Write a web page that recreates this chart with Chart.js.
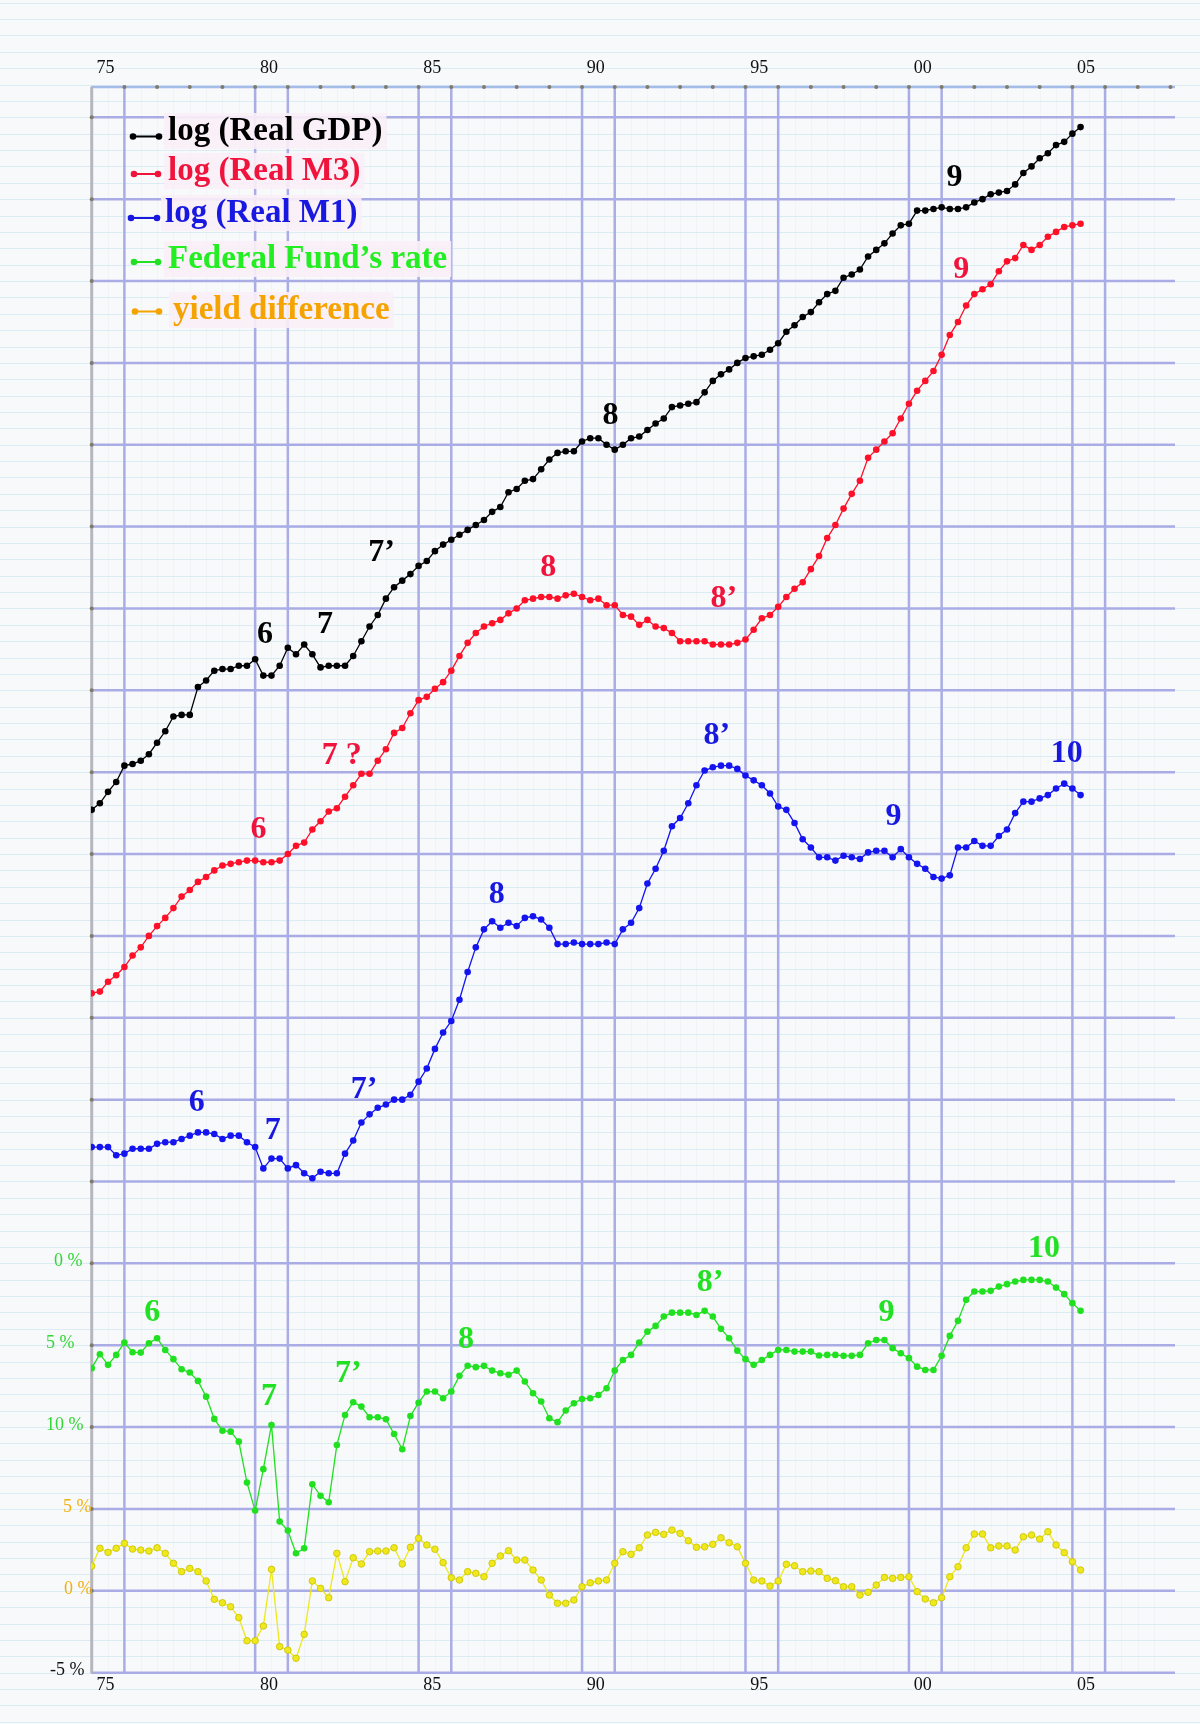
<!DOCTYPE html>
<html>
<head>
<meta charset="utf-8">
<title>log GDP, M3, M1, Fed funds, yield difference</title>
<script src="https://cdn.jsdelivr.net/npm/chart.js@4.4.1/dist/chart.umd.min.js"></script>
<style>
html,body{margin:0;padding:0;background:#f7f9fb}
canvas{display:block}
</style>
</head>
<body>
<canvas id="c" width="1200" height="1724"></canvas>
<script>
// quarterly observations, 1975Q1 .. 2005Q2
var quarters = [];
for (var i = 0; i < 122; i++) quarters.push(1975 + i / 4);

var gdp = [3.577,3.581,3.588,3.594,3.604,3.605,3.607,3.611,3.618,3.625,
  3.634,3.635,3.635,3.652,3.656,3.662,3.663,3.663,3.665,3.665,
  3.669,3.659,3.659,3.665,3.676,3.672,3.678,3.672,3.664,3.665,
  3.665,3.665,3.671,3.680,3.689,3.696,3.706,3.713,3.717,3.721,
  3.726,3.729,3.735,3.739,3.742,3.745,3.748,3.751,3.754,3.759,
  3.762,3.771,3.773,3.778,3.779,3.785,3.791,3.795,3.796,3.796,
  3.802,3.804,3.804,3.800,3.797,3.800,3.804,3.805,3.809,3.813,
  3.816,3.823,3.824,3.825,3.826,3.832,3.839,3.843,3.846,3.850,
  3.853,3.854,3.855,3.858,3.862,3.869,3.873,3.878,3.881,3.887,
  3.892,3.894,3.902,3.904,3.907,3.915,3.919,3.923,3.929,3.934,
  3.935,3.943,3.943,3.944,3.945,3.944,3.944,3.945,3.948,3.950,
  3.953,3.954,3.955,3.959,3.966,3.970,3.975,3.978,3.983,3.985,
  3.990,3.994];

var m3 = [3.465,3.466,3.472,3.476,3.481,3.488,3.493,3.500,3.506,3.511,
  3.517,3.524,3.528,3.533,3.536,3.540,3.543,3.544,3.545,3.546,
  3.546,3.545,3.545,3.546,3.550,3.555,3.557,3.565,3.570,3.576,
  3.578,3.585,3.592,3.599,3.599,3.607,3.614,3.624,3.627,3.636,
  3.644,3.646,3.651,3.655,3.662,3.671,3.679,3.685,3.689,3.691,
  3.693,3.697,3.700,3.705,3.706,3.707,3.707,3.706,3.708,3.709,
  3.707,3.705,3.706,3.702,3.702,3.696,3.695,3.690,3.693,3.689,
  3.688,3.685,3.680,3.680,3.680,3.680,3.678,3.678,3.678,3.679,
  3.681,3.687,3.694,3.696,3.701,3.707,3.712,3.716,3.724,3.732,
  3.743,3.751,3.761,3.770,3.778,3.792,3.797,3.802,3.807,3.816,
  3.825,3.833,3.839,3.845,3.855,3.867,3.875,3.885,3.892,3.895,
  3.898,3.906,3.912,3.914,3.922,3.919,3.922,3.927,3.930,3.933,
  3.934,3.935];

var m1 = [3.371,3.371,3.371,3.366,3.367,3.370,3.370,3.370,3.373,3.374,
  3.374,3.376,3.378,3.380,3.380,3.379,3.376,3.378,3.378,3.374,
  3.371,3.358,3.364,3.364,3.358,3.360,3.355,3.352,3.356,3.355,
  3.355,3.367,3.375,3.386,3.391,3.395,3.397,3.400,3.400,3.403,
  3.411,3.419,3.431,3.441,3.448,3.461,3.478,3.493,3.504,3.509,
  3.505,3.508,3.506,3.511,3.512,3.510,3.505,3.495,3.495,3.496,
  3.495,3.495,3.495,3.496,3.495,3.504,3.508,3.517,3.532,3.541,
  3.552,3.567,3.572,3.581,3.592,3.601,3.603,3.604,3.604,3.602,
  3.598,3.595,3.592,3.587,3.579,3.577,3.569,3.559,3.554,3.548,
  3.548,3.546,3.549,3.548,3.547,3.551,3.552,3.552,3.548,3.553,
  3.548,3.544,3.541,3.536,3.535,3.537,3.554,3.554,3.558,3.555,
  3.555,3.561,3.565,3.575,3.582,3.582,3.584,3.586,3.590,3.593,
  3.590,3.586];

// percent, drawn on a reversed axis
var fedFunds = [6.41,5.56,6.21,5.60,4.85,5.44,5.46,4.89,4.58,5.30,
  5.86,6.48,6.68,7.19,8.15,9.51,10.23,10.29,10.90,13.40,
  15.11,12.58,9.88,15.78,16.33,17.72,17.41,13.50,14.21,14.60,
  11.10,9.27,8.49,8.76,9.41,9.41,9.53,10.43,11.36,9.33,
  8.52,7.84,7.84,8.25,7.84,6.88,6.26,6.35,6.27,6.56,
  6.72,6.82,6.56,7.23,7.94,8.45,9.47,9.71,9.00,8.55,
  8.29,8.25,8.05,7.64,6.56,5.91,5.60,4.85,4.18,3.83,
  3.26,3.02,3.02,3.02,3.16,2.91,3.26,4.01,4.58,5.34,
  5.86,6.21,5.91,5.60,5.30,5.30,5.40,5.40,5.40,5.64,
  5.60,5.60,5.66,5.66,5.60,4.89,4.69,4.69,5.19,5.50,
  5.80,6.32,6.52,6.52,5.66,4.44,3.52,2.24,1.73,1.73,
  1.69,1.43,1.28,1.12,1.02,1.02,1.02,1.12,1.49,1.89,
  2.44,2.90];

var yieldDiff = [1.51,2.60,2.35,2.60,2.90,2.55,2.49,2.43,2.63,2.29,
  1.68,1.17,1.37,1.17,0.60,-0.52,-0.73,-0.97,-1.64,-3.05,
  -3.05,-2.15,1.31,-3.41,-3.62,-4.12,-2.66,0.60,0.15,-0.42,
  2.29,0.56,2.02,1.64,2.39,2.43,2.43,2.63,1.64,2.66,
  3.21,2.80,2.54,1.72,0.80,0.66,1.17,1.07,0.86,1.68,
  2.13,2.45,1.88,1.88,1.27,0.66,-0.26,-0.76,-0.76,-0.56,
  0.25,0.49,0.60,0.66,1.68,2.39,2.23,2.63,3.41,3.57,
  3.45,3.71,3.51,3.06,2.66,2.69,2.84,3.24,2.94,2.69,
  1.68,0.66,0.60,0.29,0.60,1.62,1.53,1.17,1.21,1.17,
  0.76,0.62,0.25,0.25,-0.26,-0.09,0.35,0.82,0.76,0.82,
  0.86,-0.05,-0.50,-0.73,-0.42,0.86,1.47,2.63,3.47,3.47,
  2.63,2.74,2.74,2.49,3.30,3.41,3.16,3.61,2.80,2.33,
  1.78,1.27];

var yearTicks = [1975, 1980, 1985, 1990, 1995, 2000, 2005];
var yearLabels = ['75', '80', '85', '90', '95', '00', '05'];
var fedTicks = [0, 5, 10];
var yieldTicks = [5, 0, -5];

// episode marks: text, year, value on the series axis
var notes = [
  {axis:'yLog', color:'#000000', list:[['6',1980.30,3.684],['7',1982.14,3.690],['7’',1983.87,3.734],['8',1990.87,3.818],['9',2001.39,3.963]]},
  {axis:'yLog', color:'#f0143c', list:[['6',1980.10,3.565],['7 ?',1982.65,3.610],['8',1988.97,3.725],['8’',1994.34,3.706],['9',2001.60,3.907]]},
  {axis:'yLog', color:'#1818e0', list:[['6',1978.21,3.398],['7',1980.54,3.381],['7’',1983.33,3.406],['8',1987.39,3.525],['8’',1994.12,3.622],['9',1999.53,3.573],['10',2004.83,3.611]]},
  {axis:'yFed', color:'#22e022', list:[['6',1976.85,3.05],['7',1980.42,8.15],['7’',1982.85,6.76],['8',1986.45,4.69],['8’',1993.92,1.19],['9',1999.31,3.05],['10',2004.13,-0.86]]}
];

function ds(label, vals, color, axis, edge) {
  return {
    label: label,
    yAxisID: axis,
    data: vals.map(function(v, i){ return {x: quarters[i], y: v}; }),
    borderColor: color,
    backgroundColor: color,
    borderWidth: 1.3,
    pointRadius: 3.3,
    pointBackgroundColor: color,
    pointBorderColor: edge || color,
    pointBorderWidth: edge ? 0.8 : 0,
    tension: 0
  };
}

var serif = '"Liberation Serif", "Times New Roman", serif';

var paper = {
  id: 'paper',
  beforeDraw: function(chart) {
    var ctx = chart.ctx, a = chart.chartArea, s = chart.scales;
    var W = chart.width, H = chart.height;
    ctx.save();
    ctx.fillStyle = '#f7f9fb';
    ctx.fillRect(0, 0, W, H);

    // fine ruling
    ctx.strokeStyle = 'rgba(130,195,220,0.24)';
    ctx.lineWidth = 1;
    for (var v = 4.1; v > 2.95; v -= 0.01) {
      var y = Math.round(s.yLog.getPixelForValue(v)) + 0.5;
      ctx.beginPath(); ctx.moveTo(0, y); ctx.lineTo(W, y); ctx.stroke();
    }
    ctx.strokeStyle = 'rgba(180,180,200,0.08)';
    for (var yr = 1975.5; yr < 2008; yr += 0.5) {
      var x = Math.round(s.x.getPixelForValue(yr)) + 0.5;
      ctx.beginPath(); ctx.moveTo(x, a.top); ctx.lineTo(x, a.bottom); ctx.stroke();
    }

    // main ruling
    ctx.strokeStyle = '#aaace6';
    ctx.lineWidth = 2.5;
    for (var k = 0; k <= 19; k++) {
      var yy = s.yLog.getPixelForValue(4 - 0.05 * k);
      ctx.beginPath(); ctx.moveTo(a.left, yy); ctx.lineTo(a.right, yy); ctx.stroke();
    }
    ctx.strokeStyle = '#a6bce8';
    ctx.beginPath(); ctx.moveTo(a.left, a.top); ctx.lineTo(a.right, a.top); ctx.stroke();
    var vyears = [1976, 1980, 1981, 1985, 1986, 1990, 1991, 1995, 1996, 2000, 2001, 2005, 2006];
    ctx.strokeStyle = '#aaace6';
    vyears.forEach(function(yr){
      var x = s.x.getPixelForValue(yr);
      ctx.beginPath(); ctx.moveTo(x, a.top); ctx.lineTo(x, a.bottom); ctx.stroke();
    });
    ctx.strokeStyle = '#b6b6be';
    ctx.lineWidth = 3;
    var x0 = s.x.getPixelForValue(1975);
    ctx.beginPath(); ctx.moveTo(x0, a.top); ctx.lineTo(x0, a.bottom); ctx.stroke();

    // tick dots
    ctx.fillStyle = '#807a6a';
    for (var t = 1976; t <= 2008; t++) {
      ctx.beginPath(); ctx.arc(s.x.getPixelForValue(t), a.top, 2, 0, Math.PI * 2); ctx.fill();
    }
    for (var k2 = 0; k2 <= 18; k2++) {
      ctx.beginPath(); ctx.arc(x0, s.yLog.getPixelForValue(4 - 0.05 * k2), 2, 0, Math.PI * 2); ctx.fill();
    }
    ctx.restore();
  }
};

var marks = {
  id: 'marks',
  afterDatasetsDraw: function(chart) {
    var ctx = chart.ctx, a = chart.chartArea, s = chart.scales;
    ctx.save();

    // year labels, top and bottom
    ctx.font = '18px ' + serif;
    ctx.fillStyle = '#111';
    ctx.textAlign = 'center';
    ctx.textBaseline = 'middle';
    yearTicks.forEach(function(yr, i){
      var x = s.x.getPixelForValue(yr + 0.42);
      ctx.fillText(yearLabels[i], x, a.top - 19);
      ctx.fillText(yearLabels[i], x, a.bottom + 12);
    });

    // percent labels on the left
    ctx.textAlign = 'left';
    var fedX = [54, 46, 46];
    fedTicks.forEach(function(v, i){
      ctx.fillStyle = '#33d633';
      ctx.fillText(v + ' %', fedX[i], s.yFed.getPixelForValue(v) - 2);
    });
    var yldX = [63, 64, 50];
    yieldTicks.forEach(function(v, i){
      ctx.fillStyle = v < 0 ? '#111' : '#f2b010';
      ctx.fillText(v + ' %', yldX[i], s.yYld.getPixelForValue(v) - 2);
    });

    // episode marks
    ctx.font = 'bold 32px ' + serif;
    ctx.textAlign = 'center';
    notes.forEach(function(g){
      ctx.fillStyle = g.color;
      g.list.forEach(function(n){
        ctx.fillText(n[0], s.x.getPixelForValue(n[1]), s[g.axis].getPixelForValue(n[2]));
      });
    });

    // legend
    var items = [
      {t:'log (Real GDP)', c:'#000000', m:'#000000', y:131, my:136.5, tx:168, m0:133, m1:159},
      {t:'log (Real M3)', c:'#f0143c', m:'#f0143c', y:171, my:174, tx:168, m0:134, m1:158},
      {t:'log (Real M1)', c:'#1818e0', m:'#1818e0', y:213, my:218, tx:165, m0:131, m1:157},
      {t:'Federal Fund’s rate', c:'#22ee22', m:'#22e022', y:259, my:262, tx:168, m0:134, m1:158},
      {t:'yield difference', c:'#f5a300', m:'#f5a300', y:310, my:311.5, tx:173, m0:135, m1:159}
    ];
    ctx.font = 'bold 33px ' + serif;
    ctx.textAlign = 'left';
    items.forEach(function(it){
      var w = ctx.measureText(it.t).width;
      ctx.fillStyle = 'rgba(250,238,247,0.9)';
      ctx.fillRect(it.tx - 4, it.y - 18, w + 8, 36);
      ctx.fillStyle = it.c;
      ctx.fillText(it.t, it.tx, it.y);
      ctx.strokeStyle = it.m;
      ctx.fillStyle = it.m;
      ctx.lineWidth = 2;
      ctx.beginPath(); ctx.moveTo(it.m0, it.my); ctx.lineTo(it.m1, it.my); ctx.stroke();
      [it.m0, it.m1].forEach(function(x){
        ctx.beginPath(); ctx.arc(x, it.my, 3.3, 0, Math.PI * 2); ctx.fill();
      });
    });
    ctx.restore();
  }
};

new Chart(document.getElementById('c'), {
  type: 'line',
  data: {
    datasets: [
      ds('log (Real GDP)', gdp, '#000000', 'yLog'),
      ds('log (Real M3)', m3, '#ff1028', 'yLog'),
      ds('log (Real M1)', m1, '#1414f0', 'yLog'),
      ds('Federal Fund’s rate', fedFunds, '#20e020', 'yFed'),
      ds('yield difference', yieldDiff, '#eee81c', 'yYld', '#c9c000')
    ]
  },
  options: {
    responsive: false,
    animation: false,
    devicePixelRatio: 1,
    events: [],
    layout: {padding: {left: 91, right: 25, top: 87, bottom: 51}},
    plugins: {legend: {display: false}, tooltip: {enabled: false}},
    scales: {
      x: {type: 'linear', display: false, min: 1974.9786, max: 2008.139},
      yLog: {type: 'linear', display: false, min: 3.0498, max: 4.0185},
      yFed: {type: 'linear', display: false, reverse: true, min: -71.84, max: 25.03},
      yYld: {type: 'linear', display: false, min: -5.02, max: 91.86}
    }
  },
  plugins: [paper, marks]
});
</script>
</body>
</html>
